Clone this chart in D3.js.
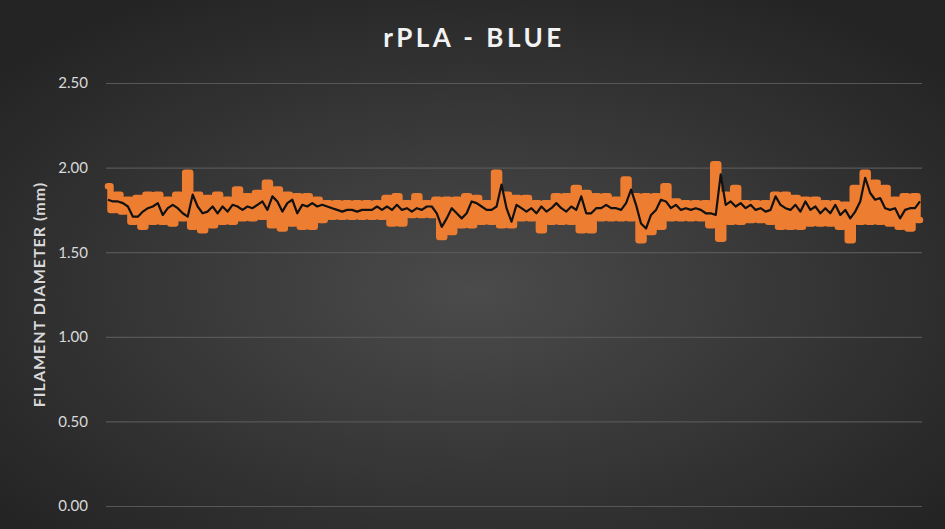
<!DOCTYPE html>
<html>
<head>
<meta charset="utf-8">
<script src="https://cdn.jsdelivr.net/npm/d3@7"></script>
<style>
  html, body { margin: 0; padding: 0; background: #2b2b2b; }
  svg { display: block; }
</style>
</head>
<body>
<div id="chart"></div>
<script>
// y axis ticks
var yTicks = [0, 0.5, 1.0, 1.5, 2.0, 2.5];

// raw readings, max / min per bin (orange trace)
var rawMax = [1.89, 1.84, 1.81, 1.82, 1.84, 1.84, 1.81, 1.84, 1.97, 1.84,
              1.82, 1.84, 1.81, 1.87, 1.83, 1.85, 1.91, 1.87, 1.84, 1.83,
              1.83, 1.81, 1.79, 1.79, 1.79, 1.79, 1.79, 1.79, 1.82, 1.83,
              1.79, 1.83, 1.79, 1.81, 1.81, 1.81, 1.83, 1.82, 1.79, 1.97,
              1.84, 1.82, 1.82, 1.79, 1.79, 1.83, 1.83, 1.88, 1.85, 1.83,
              1.83, 1.81, 1.93, 1.83, 1.83, 1.83, 1.89, 1.80, 1.79, 1.79,
              1.79, 2.02, 1.84, 1.88, 1.79, 1.79, 1.79, 1.84, 1.84, 1.82,
              1.81, 1.81, 1.79, 1.79, 1.78, 1.88, 1.97, 1.91, 1.88, 1.81,
              1.83, 1.83];
var rawMin = [1.75, 1.74, 1.68, 1.65, 1.68, 1.68, 1.67, 1.70, 1.65, 1.63,
              1.66, 1.68, 1.68, 1.70, 1.70, 1.71, 1.66, 1.64, 1.67, 1.65,
              1.65, 1.69, 1.71, 1.71, 1.71, 1.71, 1.71, 1.71, 1.67, 1.67,
              1.72, 1.72, 1.72, 1.59, 1.62, 1.66, 1.66, 1.68, 1.68, 1.66,
              1.66, 1.70, 1.70, 1.63, 1.68, 1.68, 1.68, 1.63, 1.63, 1.70,
              1.70, 1.70, 1.70, 1.57, 1.62, 1.65, 1.70, 1.70, 1.70, 1.70,
              1.66, 1.58, 1.68, 1.68, 1.69, 1.69, 1.68, 1.65, 1.65, 1.65,
              1.67, 1.67, 1.67, 1.65, 1.57, 1.68, 1.68, 1.68, 1.67, 1.65,
              1.64, 1.69];

// smoothed diameter (black line)
var smooth = [1.81, 1.80, 1.80, 1.79, 1.77, 1.71, 1.71, 1.74, 1.76, 1.77,
              1.79, 1.72, 1.76, 1.78, 1.76, 1.73, 1.71, 1.84, 1.77, 1.73,
              1.74, 1.77, 1.73, 1.77, 1.74, 1.78, 1.77, 1.75, 1.77, 1.76,
              1.78, 1.80, 1.75, 1.83, 1.80, 1.74, 1.79, 1.81, 1.73, 1.78,
              1.77, 1.79, 1.77, 1.78, 1.77, 1.76, 1.75, 1.74, 1.75, 1.75,
              1.74, 1.75, 1.75, 1.75, 1.77, 1.75, 1.77, 1.75, 1.78,
              1.75, 1.76, 1.74, 1.76, 1.75, 1.77, 1.77, 1.73, 1.65, 1.70,
              1.76, 1.73, 1.70, 1.73, 1.80, 1.79, 1.77, 1.75, 1.75, 1.77,
              1.90, 1.76, 1.68, 1.78, 1.76, 1.74, 1.76, 1.73, 1.77, 1.74,
              1.76, 1.79, 1.76, 1.74, 1.77, 1.75, 1.83, 1.73, 1.73, 1.76,
              1.76, 1.78, 1.76, 1.76, 1.75, 1.79, 1.87, 1.78, 1.67, 1.64,
              1.72, 1.75, 1.81, 1.80, 1.76, 1.78, 1.75, 1.76, 1.75, 1.76,
              1.75, 1.73, 1.73, 1.72, 1.96, 1.78, 1.80, 1.77, 1.79, 1.76,
              1.78, 1.75, 1.76, 1.74, 1.75, 1.83, 1.78, 1.76, 1.75, 1.78,
              1.74, 1.80, 1.75, 1.77, 1.73, 1.76, 1.73, 1.78, 1.72, 1.75,
              1.70, 1.74, 1.80, 1.94, 1.85, 1.81, 1.82, 1.76, 1.75, 1.76,
              1.70, 1.75, 1.76, 1.76, 1.80];

var width = 945, height = 529;
var margin = { top: 83, right: 23, bottom: 23, left: 106 };
var plotW = width - margin.left - margin.right,
    plotH = height - margin.top - margin.bottom;

var svg = d3.select("#chart").append("svg")
    .attr("width", width)
    .attr("height", height);

// background
var grad = svg.append("defs").append("radialGradient")
    .attr("id", "bg")
    .attr("cx", "50%").attr("cy", "55%").attr("r", "65%");
grad.append("stop").attr("offset", "0%").attr("stop-color", "#4b4b4b");
grad.append("stop").attr("offset", "100%").attr("stop-color", "#242424");
svg.append("rect")
    .attr("width", width).attr("height", height)
    .attr("fill", "url(#bg)");

var g = svg.append("g")
    .attr("transform", "translate(" + margin.left + "," + margin.top + ")");

// scales
var y = d3.scaleLinear()
    .domain([0, 2.5])
    .range([plotH, 0]);

var x = d3.scaleLinear()
    .domain([0, 1])
    .range([2, plotW - 2]);

// grid + tick labels
var yAxis = d3.axisLeft(y)
    .tickValues(yTicks)
    .tickSize(-plotW)
    .tickPadding(18)
    .tickFormat(d3.format(".2f"));
var ya = g.append("g").attr("class", "y axis").call(yAxis);
ya.select(".domain").remove();
ya.selectAll("line").attr("stroke", "#575757").attr("stroke-width", 1.2);
ya.selectAll("text")
    .attr("fill", "#d9d9d9")
    .style("font-family", "Lato, 'Open Sans', sans-serif")
    .style("font-size", "15px");

// orange trace: readings alternate between the max and min of each bin
var readings = [];
rawMax.forEach(function (d, i) { readings.push(d, rawMin[i]); });
var nR = readings.length;
var rawLine = d3.line()
    .curve(d3.curveStep)
    .x(function (d, i) { return x(i / (nR - 1)); })
    .y(function (d) { return y(d); });
g.append("path")
    .datum(readings)
    .attr("d", rawLine)
    .attr("fill", "none")
    .attr("stroke", "#ED7D31")
    .attr("stroke-width", 6.5)
    .attr("stroke-linejoin", "round")
    .attr("stroke-linecap", "round");

// smoothed line
var nS = smooth.length;
var line = d3.line()
    .x(function (d, i) { return x(i / (nS - 1)); })
    .y(function (d) { return y(d); });
g.append("path")
    .datum(smooth)
    .attr("d", line)
    .attr("fill", "none")
    .attr("stroke", "#111")
    .attr("stroke-width", 2.2)
    .attr("stroke-linejoin", "round");

// title
svg.append("text")
    .attr("x", 474)
    .attr("y", 47)
    .attr("text-anchor", "middle")
    .attr("fill", "#f2f2f2")
    .style("font-family", "Lato, 'Open Sans', sans-serif")
    .style("font-weight", "bold")
    .style("font-size", "26px")
    .style("letter-spacing", "3.5px")
    .text("rPLA - BLUE");

// y axis title
svg.append("text")
    .attr("transform", "translate(45," + (margin.top + plotH / 2) + ") rotate(-90)")
    .attr("text-anchor", "middle")
    .attr("fill", "#d9d9d9")
    .style("font-family", "Lato, 'Open Sans', sans-serif")
    .style("font-weight", "bold")
    .style("font-size", "16px")
    .style("letter-spacing", "1px")
    .text("FILAMENT DIAMETER (mm)");
</script>
</body>
</html>
